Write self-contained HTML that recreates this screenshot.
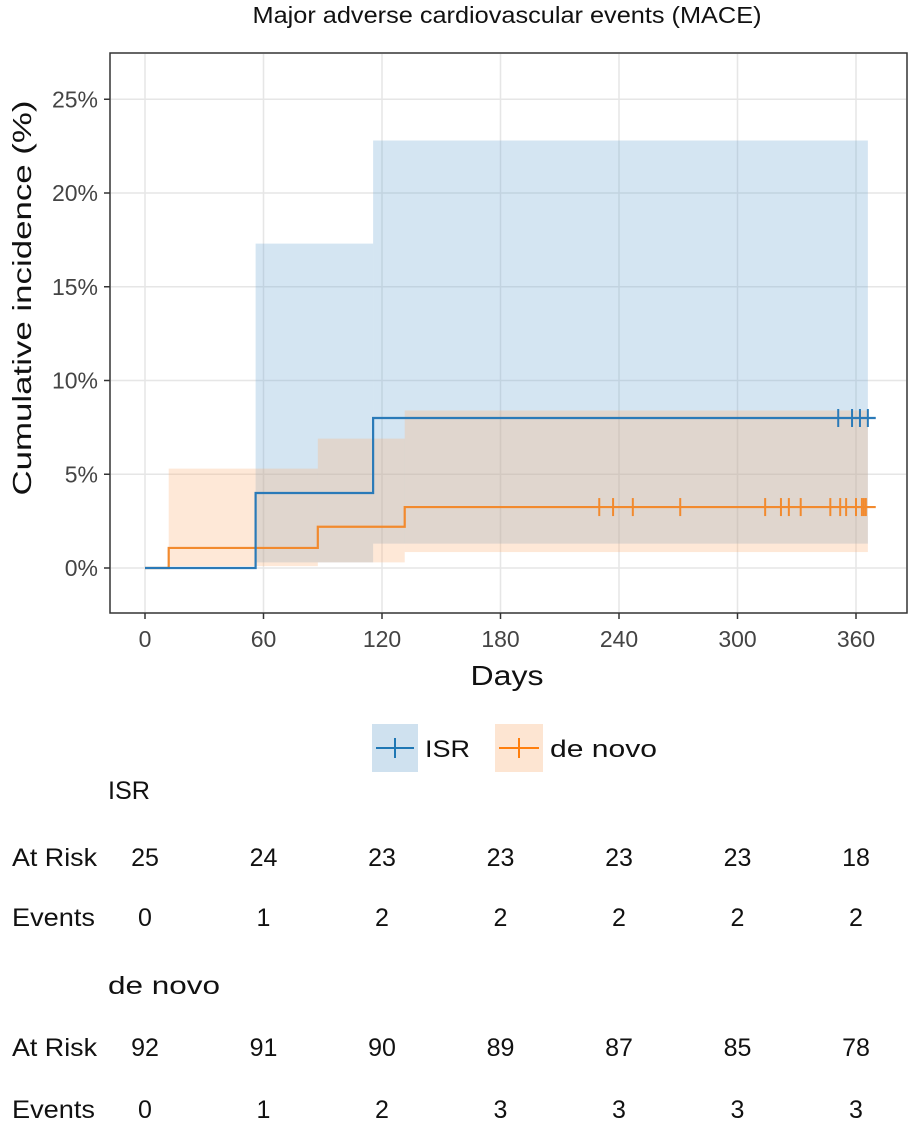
<!DOCTYPE html>
<html><head><meta charset="utf-8"><style>
body{margin:0;background:#fff;font-family:"Liberation Sans",sans-serif;}
svg text{font-family:"Liberation Sans",sans-serif;}
</style></head><body>
<svg id="c" width="911" height="1126" xmlns="http://www.w3.org/2000/svg">
<text x="507" y="23" text-anchor="middle" font-size="23" textLength="509" lengthAdjust="spacingAndGlyphs" fill="#111">Major adverse cardiovascular events (MACE)</text>
<g id="plot"></g>
<text x="507" y="685" text-anchor="middle" font-size="28" textLength="73" lengthAdjust="spacingAndGlyphs" fill="#111">Days</text>
<text transform="translate(31,298) rotate(-90)" text-anchor="middle" font-size="26" textLength="395" lengthAdjust="spacingAndGlyphs" fill="#111">Cumulative incidence (%)</text>
<g>
<rect x="372" y="724" width="46" height="48" fill="#cfe1ef"/>
<line x1="376" y1="748" x2="414" y2="748" stroke="#1f77b4" stroke-width="2"/>
<line x1="395" y1="738" x2="395" y2="758" stroke="#1f77b4" stroke-width="2"/>
<text x="425" y="757" font-size="24" textLength="45" lengthAdjust="spacingAndGlyphs" fill="#111">ISR</text>
<rect x="495" y="724" width="48" height="48" fill="#fde5d2"/>
<line x1="499" y1="748" x2="539" y2="748" stroke="#ff7f0e" stroke-width="2"/>
<line x1="519" y1="738" x2="519" y2="758" stroke="#ff7f0e" stroke-width="2"/>
<text x="550" y="757" font-size="24" textLength="107" lengthAdjust="spacingAndGlyphs" fill="#111">de novo</text>
</g>
<g id="table"></g>
</svg>
<script>
const xTicks=[0,60,120,180,240,300,360];
const yTicks=[0,5,10,15,20,25];
const isrSteps=[[0,0],[56,4],[115.5,8]];
const isrEnd=370;
const isrCI=[[56,0.3,17.3],[115.5,1.3,22.8]];
const isrCIEnd=366;
const isrCens=[351,358,362,366];
const dnSteps=[[0,0],[12,1.07],[87.5,2.2],[131.5,3.25]];
const dnEnd=370;
const dnCI=[[12,0.1,5.3],[87.5,0.3,6.9],[131.5,0.85,8.4]];
const dnCIEnd=366;
const dnCens=[230,237,247,271,314,322,326,332,347,352,355,360,363,364,365];
const isrRisk=[25,24,23,23,23,23,18];
const isrEvents=[0,1,2,2,2,2,2];
const dnRisk=[92,91,90,89,87,85,78];
const dnEvents=[0,1,2,3,3,3,3];

const NS="http://www.w3.org/2000/svg";
const X=d=>145+d*1.975, Y=p=>568-p*18.75;
const plot=document.getElementById('plot'), table=document.getElementById('table');
function mk(p,tag,a){const e=document.createElementNS(NS,tag);for(const k in a)e.setAttribute(k,a[k]);p.appendChild(e);return e;}
const bg=mk(plot,'rect',{x:110,y:53,width:797,height:560,fill:'#fff'});


xTicks.forEach(t=>{const l=mk(plot,'line',{x1:X(t),x2:X(t),y1:54,y2:612,stroke:'#e6e6e6','stroke-width':1.5});

});
yTicks.forEach(t=>{const l=mk(plot,'line',{x1:111,x2:906,y1:Y(t),y2:Y(t),stroke:'#e6e6e6','stroke-width':1.5});

});
function ci(arr,end,color,name){arr.forEach((s,i)=>{const x2=i+1<arr.length?arr[i+1][0]:end;
const r=mk(plot,'rect',{x:X(s[0]),y:Y(s[2]),width:X(x2)-X(s[0]),height:Y(s[1])-Y(s[2]),fill:color,'fill-opacity':0.3});

});}
ci(isrCI,isrCIEnd,'#6fa8d3','isr-ci-band');
ci(dnCI,dnCIEnd,'#fbb27a','denovo-ci-band');
function curve(steps,end,cens,color,name){let d='M'+X(steps[0][0])+','+Y(steps[0][1]);
for(let i=1;i<steps.length;i++){d+='H'+X(steps[i][0])+'V'+Y(steps[i][1]);}
d+='H'+X(end);
const p=mk(plot,'path',{d:d,fill:'none',stroke:color,'stroke-width':2.2});


const last=steps[steps.length-1][1];
cens.forEach(c=>{const l=mk(plot,'line',{x1:X(c),x2:X(c),y1:Y(last)-9,y2:Y(last)+9,stroke:color,'stroke-width':2});

});}
curve(dnSteps,dnEnd,dnCens,'#f28a2e','denovo');
curve(isrSteps,isrEnd,isrCens,'#2a7ab8','isr');
const fr=mk(plot,'rect',{x:110,y:53,width:797,height:560,fill:'none',stroke:'#333','stroke-width':1.5});


xTicks.forEach(t=>{mk(plot,'line',{x1:X(t),x2:X(t),y1:613,y2:619,stroke:'#333','stroke-width':1.5});
const tx=mk(plot,'text',{x:X(t),y:647,'text-anchor':'middle','font-size':23,fill:'#444'});tx.textContent=t;

});
yTicks.forEach(t=>{mk(plot,'line',{x1:104,x2:110,y1:Y(t),y2:Y(t),stroke:'#333','stroke-width':1.5});
const tx=mk(plot,'text',{x:98,y:Y(t)+8,'text-anchor':'end','font-size':23,fill:'#444'});tx.textContent=t+'%';

});
function txt(x,y,s,anchor,name,len){const a={x:x,y:y,'text-anchor':anchor,'font-size':25,fill:'#111'};
if(len){a.textLength=len;a.lengthAdjust='spacingAndGlyphs';}
const t=mk(table,'text',a);t.textContent=s;

}
txt(108,799,'ISR','start','table-group-isr',42);
txt(12,866,'At Risk','start','row-label-at-risk',85);
txt(12,926,'Events','start','row-label-events',83);
txt(108,994,'de novo','start','table-group-denovo',112);
txt(12,1056,'At Risk','start','row-label-at-risk',85);
txt(12,1118,'Events','start','row-label-events',83);
xTicks.forEach((t,i)=>{txt(X(t),866,isrRisk[i],'middle','isr-at-risk-value');
txt(X(t),926,isrEvents[i],'middle','isr-events-value');
txt(X(t),1056,dnRisk[i],'middle','denovo-at-risk-value');
txt(X(t),1118,dnEvents[i],'middle','denovo-events-value');});
</script>
</body></html>
